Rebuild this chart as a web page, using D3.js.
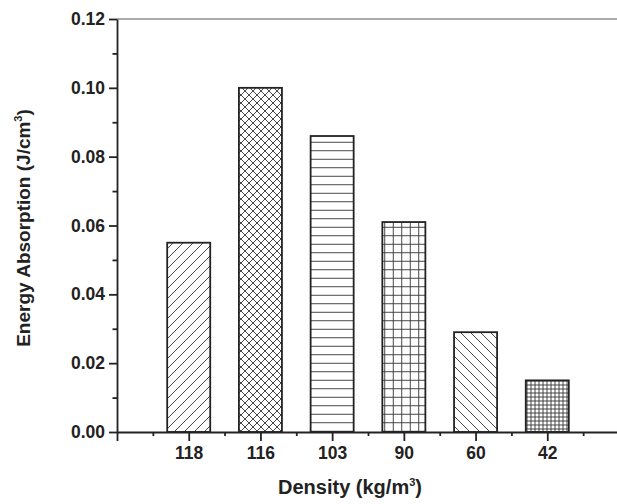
<!DOCTYPE html>
<html>
<head>
<meta charset="utf-8">
<script src="https://cdn.jsdelivr.net/npm/d3@7"></script>
<style>
  body { margin: 0; background: #fff; }
  text { font-family: "Liberation Sans", Arial, sans-serif; font-weight: bold; fill: #222; }
</style>
</head>
<body>
<div id="chart"></div>
<script>
// Data
const densities = ["118", "116", "103", "90", "60", "42"];
const absorption = [0.055, 0.100, 0.086, 0.061, 0.029, 0.015];
const patternIds = ["diagUp", "crossDiag", "horiz", "gridWide", "diagDown", "gridFine"];
const yTicks = [0, 0.02, 0.04, 0.06, 0.08, 0.10, 0.12];
const yMinorTicks = [0.01, 0.03, 0.05, 0.07, 0.09, 0.11];

function main() {

    // Set the dimensions and margins of the graph
    const margin = {top: 19, right: 0, bottom: 72, left: 117},
        width = 617,
        height = 504,
        plotWidth = 502,
        plotHeight = height - margin.top - margin.bottom;

    const svg = d3.select("#chart")
        .append("svg")
        .attr("width", width)
        .attr("height", height);

    // Hatch patterns
    const defs = svg.append("defs");
    const ink = "#333";

    function addPattern(id, size, draw) {
        const p = defs.append("pattern")
            .attr("id", id)
            .attr("patternUnits", "userSpaceOnUse")
            .attr("width", size)
            .attr("height", size);
        p.append("rect").attr("width", size).attr("height", size).attr("fill", "#fff");
        draw(p, size);
    }
    const line = (p, x1, y1, x2, y2) => p.append("line")
        .attr("x1", x1).attr("y1", y1).attr("x2", x2).attr("y2", y2)
        .attr("stroke", ink).attr("stroke-width", 0.9);

    addPattern("diagUp", 10, (p, s) => {
        line(p, 0, s, s, 0);
        line(p, -1, 1, 1, -1);
        line(p, s - 1, s + 1, s + 1, s - 1);
    });
    addPattern("diagDown", 10, (p, s) => {
        line(p, 0, 0, s, s);
        line(p, -1, s - 1, 1, s + 1);
        line(p, s - 1, -1, s + 1, 1);
    });
    addPattern("crossDiag", 8, (p, s) => {
        line(p, 0, s, s, 0);
        line(p, 0, 0, s, s);
    });
    addPattern("horiz", 8.5, (p, s) => {
        line(p, 0, s / 2, s, s / 2);
    });
    addPattern("gridWide", 8.5, (p, s) => {
        line(p, 0, s / 2, s, s / 2);
        line(p, s / 2, 0, s / 2, s);
    });
    addPattern("gridFine", 4, (p, s) => {
        line(p, 0, s / 2, s, s / 2);
        line(p, s / 2, 0, s / 2, s);
    });

    const g = svg.append("g")
        .attr("transform", `translate(${margin.left},${margin.top})`);

    // Scales
    const x = d3.scaleLinear()
        .domain([0, densities.length + 1])
        .range([0, plotWidth]);
    const step = x(1) - x(0);
    const barWidth = step * 0.6;

    const y = d3.scaleLinear()
        .domain([0, 0.12])
        .range([plotHeight, 0]);

    // Top frame line
    g.append("line")
        .attr("x1", 0).attr("x2", plotWidth)
        .attr("y1", 0).attr("y2", 0)
        .attr("stroke", "#aaa")
        .attr("stroke-width", 2);

    // Bars
    g.append("g")
        .selectAll("rect")
        .data(absorption)
        .join("rect")
        .attr("x", (d, i) => x(i + 1) - barWidth / 2)
        .attr("y", d => y(d))
        .attr("width", barWidth)
        .attr("height", d => plotHeight - y(d))
        .attr("fill", (d, i) => `url(#${patternIds[i]})`)
        .attr("stroke", "#222")
        .attr("stroke-width", 1.8);

    // X axis: minor ticks
    g.append("g")
        .attr("transform", `translate(0,${plotHeight})`)
        .call(d3.axisBottom(x)
            .tickValues(d3.range(0.5, densities.length + 1, 1))
            .tickSize(4)
            .tickFormat(""))
        .call(a => a.select(".domain").remove());

    // X axis: major ticks with density labels
    const xAxis = g.append("g")
        .attr("transform", `translate(0,${plotHeight})`)
        .call(d3.axisBottom(x)
            .tickValues(d3.range(0, densities.length + 2))
            .tickSize(9)
            .tickSizeOuter(0)
            .tickFormat(i => (i >= 1 && i <= densities.length) ? densities[i - 1] : ""));
    xAxis.selectAll("text")
        .attr("y", 27)
        .attr("dy", 0)
        .style("font-size", "17.5px");

    // Y axis: minor ticks
    g.append("g")
        .call(d3.axisLeft(y)
            .tickValues(yMinorTicks)
            .tickSize(4.5)
            .tickFormat(""))
        .call(a => a.select(".domain").remove());

    // Y axis: major ticks
    const yAxis = g.append("g")
        .call(d3.axisLeft(y)
            .tickValues(yTicks)
            .tickSize(8)
            .tickSizeOuter(0)
            .tickFormat(d3.format(".2f")));
    yAxis.selectAll("text")
        .attr("x", -12)
        .style("font-size", "17.5px");

    g.selectAll(".domain, .tick line")
        .attr("stroke", "#222")
        .attr("stroke-width", 1.8);

    // Axis titles
    const xTitle = svg.append("text")
        .attr("x", 350)
        .attr("y", 494)
        .attr("text-anchor", "middle")
        .style("font-size", "20px");
    xTitle.append("tspan").text("Density (kg/m");
    xTitle.append("tspan").attr("dy", -8).style("font-size", "11px").text("3");
    xTitle.append("tspan").attr("dy", 8).text(")");

    const yTitle = svg.append("text")
        .attr("transform", "translate(30,228) rotate(-90)")
        .attr("text-anchor", "middle")
        .style("font-size", "19px");
    yTitle.append("tspan").text("Energy Absorption (J/cm");
    yTitle.append("tspan").attr("dy", -8).style("font-size", "11px").text("3");
    yTitle.append("tspan").attr("dy", 8).text(")");
}

main();
</script>
</body>
</html>
